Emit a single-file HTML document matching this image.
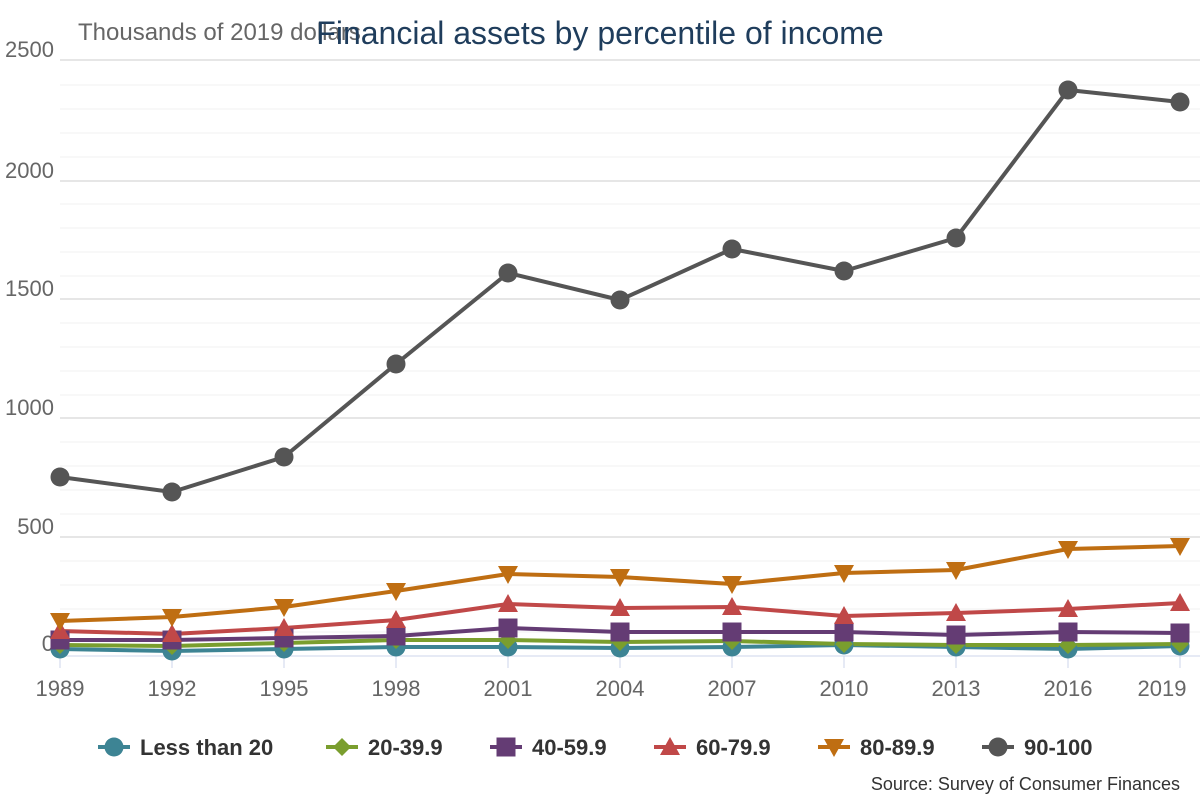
<!DOCTYPE html>
<html><head><meta charset="utf-8"><style>
body{margin:0;background:#fff;width:1200px;height:800px;overflow:hidden}
svg{font-family:"Liberation Sans",sans-serif}
</style></head><body>
<svg width="1200" height="800" xmlns="http://www.w3.org/2000/svg">
<g stroke="#e6e6e6" stroke-width="1">
<line x1="60" x2="1200" y1="85" y2="85" stroke="#f0f0f0"/><line x1="60" x2="1200" y1="109" y2="109" stroke="#f0f0f0"/><line x1="60" x2="1200" y1="133" y2="133" stroke="#f0f0f0"/><line x1="60" x2="1200" y1="157" y2="157" stroke="#f0f0f0"/>
<line x1="60" x2="1200" y1="204" y2="204" stroke="#f0f0f0"/><line x1="60" x2="1200" y1="228" y2="228" stroke="#f0f0f0"/><line x1="60" x2="1200" y1="252" y2="252" stroke="#f0f0f0"/><line x1="60" x2="1200" y1="276" y2="276" stroke="#f0f0f0"/>
<line x1="60" x2="1200" y1="323" y2="323" stroke="#f0f0f0"/><line x1="60" x2="1200" y1="347" y2="347" stroke="#f0f0f0"/><line x1="60" x2="1200" y1="371" y2="371" stroke="#f0f0f0"/><line x1="60" x2="1200" y1="395" y2="395" stroke="#f0f0f0"/>
<line x1="60" x2="1200" y1="442" y2="442" stroke="#f0f0f0"/><line x1="60" x2="1200" y1="466" y2="466" stroke="#f0f0f0"/><line x1="60" x2="1200" y1="490" y2="490" stroke="#f0f0f0"/><line x1="60" x2="1200" y1="514" y2="514" stroke="#f0f0f0"/>
<line x1="60" x2="1200" y1="561" y2="561" stroke="#f0f0f0"/><line x1="60" x2="1200" y1="585" y2="585" stroke="#f0f0f0"/><line x1="60" x2="1200" y1="609" y2="609" stroke="#f0f0f0"/><line x1="60" x2="1200" y1="632" y2="632" stroke="#f0f0f0"/>
<line x1="60" x2="1200" y1="60" y2="60" stroke-width="2"/><line x1="60" x2="1200" y1="181" y2="181" stroke-width="2"/><line x1="60" x2="1200" y1="299" y2="299" stroke-width="2"/><line x1="60" x2="1200" y1="418" y2="418" stroke-width="2"/><line x1="60" x2="1200" y1="537" y2="537" stroke-width="2"/>
</g>
<line x1="60" x2="1200" y1="656" y2="656" stroke="#ccd6eb" stroke-width="1"/>
<g stroke="#ccd6eb"><line x1="60" x2="60" y1="656" y2="668"/><line x1="172" x2="172" y1="656" y2="668"/><line x1="284" x2="284" y1="656" y2="668"/><line x1="396" x2="396" y1="656" y2="668"/><line x1="508" x2="508" y1="656" y2="668"/><line x1="620" x2="620" y1="656" y2="668"/><line x1="732" x2="732" y1="656" y2="668"/><line x1="844" x2="844" y1="656" y2="668"/><line x1="956" x2="956" y1="656" y2="668"/><line x1="1068" x2="1068" y1="656" y2="668"/><line x1="1180" x2="1180" y1="656" y2="668"/></g>
<g fill="#666" font-size="22" text-anchor="end">
<text x="54" y="57">2500</text><text x="54" y="178">2000</text><text x="54" y="296">1500</text><text x="54" y="415">1000</text><text x="54" y="534">500</text><text x="54" y="651">0</text></g>
<g fill="#666" font-size="22" text-anchor="middle">
<text x="60" y="696">1989</text><text x="172" y="696">1992</text><text x="284" y="696">1995</text><text x="396" y="696">1998</text><text x="508" y="696">2001</text><text x="620" y="696">2004</text><text x="732" y="696">2007</text><text x="844" y="696">2010</text><text x="956" y="696">2013</text><text x="1068" y="696">2016</text><text x="1162" y="696">2019</text></g>
<text x="78" y="40" fill="#666" font-size="24">Thousands of 2019 dollars</text>
<text x="600" y="44" fill="#1f3d5c" font-size="32" text-anchor="middle">Financial assets by percentile of income</text>
<defs>
<g id="c"><circle r="9.5"/></g>
<g id="d"><path d="M0,-9 L9,0 L0,9 L-9,0Z"/></g>
<g id="s"><rect x="-9.5" y="-9.5" width="19" height="19"/></g>
<g id="t"><path d="M0,-10 L10,8 L-10,8Z"/></g>
<g id="v"><path d="M0,10 L10,-8 L-10,-8Z"/></g>
</defs>
<g fill="none" stroke-width="4" stroke-linejoin="round">
<polyline stroke="#3d8494" points="60,649 172,651 284,649 396,647 508,647 620,648 732,647 844,645 956,647 1068,649 1180,646"/>
<polyline stroke="#7a9e2e" points="60,645 172,646 284,643 396,640 508,640 620,642 732,641 844,644 956,645 1068,645 1180,644"/>
<polyline stroke="#643c74" points="60,640 172,640 284,638 396,636 508,628 620,632 732,632 844,632 956,635 1068,632 1180,633"/>
<polyline stroke="#c04848" points="60,631 172,634 284,628 396,620 508,604 620,608 732,607 844,616 956,613 1068,609 1180,603"/>
<polyline stroke="#bf6e12" points="60,621 172,617 284,607 396,591 508,574 620,577 732,584 844,573 956,570 1068,549 1180,546"/>
<polyline stroke="#555" points="60,477 172,492 284,457 396,364 508,273 620,300 732,249 844,271 956,238 1068,90 1180,102"/>
</g>
<g fill="#3d8494"><use href="#c" x="60" y="649"/><use href="#c" x="172" y="651"/><use href="#c" x="284" y="649"/><use href="#c" x="396" y="647"/><use href="#c" x="508" y="647"/><use href="#c" x="620" y="648"/><use href="#c" x="732" y="647"/><use href="#c" x="844" y="645"/><use href="#c" x="956" y="647"/><use href="#c" x="1068" y="649"/><use href="#c" x="1180" y="646"/></g>
<g fill="#7a9e2e"><use href="#d" x="60" y="645"/><use href="#d" x="172" y="646"/><use href="#d" x="284" y="643"/><use href="#d" x="396" y="640"/><use href="#d" x="508" y="640"/><use href="#d" x="620" y="642"/><use href="#d" x="732" y="641"/><use href="#d" x="844" y="644"/><use href="#d" x="956" y="645"/><use href="#d" x="1068" y="645"/><use href="#d" x="1180" y="644"/></g>
<g fill="#643c74"><use href="#s" x="60" y="640"/><use href="#s" x="172" y="640"/><use href="#s" x="284" y="638"/><use href="#s" x="396" y="636"/><use href="#s" x="508" y="628"/><use href="#s" x="620" y="632"/><use href="#s" x="732" y="632"/><use href="#s" x="844" y="632"/><use href="#s" x="956" y="635"/><use href="#s" x="1068" y="632"/><use href="#s" x="1180" y="633"/></g>
<g fill="#c04848"><use href="#t" x="60" y="631"/><use href="#t" x="172" y="634"/><use href="#t" x="284" y="628"/><use href="#t" x="396" y="620"/><use href="#t" x="508" y="604"/><use href="#t" x="620" y="608"/><use href="#t" x="732" y="607"/><use href="#t" x="844" y="616"/><use href="#t" x="956" y="613"/><use href="#t" x="1068" y="609"/><use href="#t" x="1180" y="603"/></g>
<g fill="#bf6e12"><use href="#v" x="60" y="621"/><use href="#v" x="172" y="617"/><use href="#v" x="284" y="607"/><use href="#v" x="396" y="591"/><use href="#v" x="508" y="574"/><use href="#v" x="620" y="577"/><use href="#v" x="732" y="584"/><use href="#v" x="844" y="573"/><use href="#v" x="956" y="570"/><use href="#v" x="1068" y="549"/><use href="#v" x="1180" y="546"/></g>
<g fill="#555"><use href="#c" x="60" y="477"/><use href="#c" x="172" y="492"/><use href="#c" x="284" y="457"/><use href="#c" x="396" y="364"/><use href="#c" x="508" y="273"/><use href="#c" x="620" y="300"/><use href="#c" x="732" y="249"/><use href="#c" x="844" y="271"/><use href="#c" x="956" y="238"/><use href="#c" x="1068" y="90"/><use href="#c" x="1180" y="102"/></g>
<g font-size="22" font-weight="bold" fill="#333" stroke-width="4">
<line x1="98" x2="130" y1="747" y2="747" stroke="#3d8494"/><use href="#c" x="114" y="747" fill="#3d8494"/><text x="140" y="755">Less than 20</text>
<line x1="326" x2="358" y1="747" y2="747" stroke="#7a9e2e"/><use href="#d" x="342" y="747" fill="#7a9e2e"/><text x="368" y="755">20-39.9</text>
<line x1="490" x2="522" y1="747" y2="747" stroke="#643c74"/><use href="#s" x="506" y="747" fill="#643c74"/><text x="532" y="755">40-59.9</text>
<line x1="654" x2="686" y1="747" y2="747" stroke="#c04848"/><use href="#t" x="670" y="747" fill="#c04848"/><text x="696" y="755">60-79.9</text>
<line x1="818" x2="850" y1="747" y2="747" stroke="#bf6e12"/><use href="#v" x="834" y="747" fill="#bf6e12"/><text x="860" y="755">80-89.9</text>
<line x1="982" x2="1014" y1="747" y2="747" stroke="#555"/><use href="#c" x="998" y="747" fill="#555"/><text x="1024" y="755">90-100</text>
</g>
<text x="1180" y="790" font-size="18" fill="#333" text-anchor="end">Source: Survey of Consumer Finances</text>
</svg>
</body></html>
